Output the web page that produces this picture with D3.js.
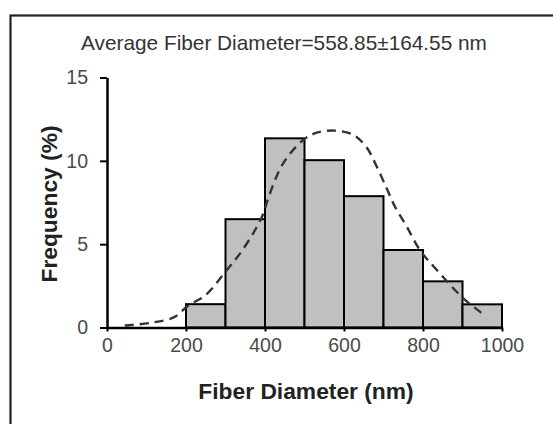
<!DOCTYPE html>
<html><head><meta charset="utf-8">
<script src="https://cdn.jsdelivr.net/npm/d3@7"></script>
<style>
html,body{margin:0;padding:0;background:#fff;}
svg{display:block;}
text{font-family:"Liberation Sans",Arial,sans-serif;}
</style></head>
<body>
<svg id="chart" width="553" height="424"></svg>
<script>
// Histogram bins (nm) and frequency (%)
const binStarts = [200, 300, 400, 500, 600, 700, 800, 900];
const binWidth = 100;
const frequencies = [1.40, 6.50, 11.35, 10.04, 7.88, 4.65, 2.77, 1.39];
// Dashed fitted curve
const curveX = [45, 110, 170, 205, 250, 300, 337, 375, 396, 408, 446, 497, 531, 577, 624, 657, 683, 708, 729, 759, 792, 835, 902, 944, 958];
const curveY = [0.12, 0.28, 0.62, 1.3, 1.95, 3.35, 4.45, 5.85, 6.85, 7.75, 9.85, 11.25, 11.69, 11.81, 11.55, 10.81, 9.65, 8.35, 7.25, 6.05, 4.65, 3.45, 1.75, 0.95, 0.65];
const xTicks = [0, 200, 400, 600, 800, 1000];
const yTicks = [0, 5, 10, 15];
const titleText = "Average Fiber Diameter=558.85±164.55 nm";
const xLabel = "Fiber Diameter (nm)";
const yLabel = "Frequency (%)";

const svg = d3.select("#chart");
svg.append("rect").attr("width",553).attr("height",424).attr("fill","#fff");
// outer frame (cut at right/bottom)
svg.append("rect").attr("x",10.5).attr("y",15.5).attr("width",560).attr("height",430)
  .attr("fill","none").attr("stroke","#222").attr("stroke-width",2.2);

const x = d3.scaleLinear().domain([0,1000]).range([107,502]);
const y = d3.scaleLinear().domain([0,15]).range([327.5,77.5]);

// bars
svg.append("g").selectAll("rect").data(binStarts).join("rect")
  .attr("x", d=>x(d)).attr("width", d=>x(d+binWidth)-x(d))
  .attr("y", (d,i)=>y(frequencies[i])).attr("height",(d,i)=>y(0)-y(frequencies[i]))
  .attr("fill","#c0c0c0").attr("stroke","#000").attr("stroke-width",2);

// curve
const pts = curveX.map((v,i)=>[v,curveY[i]]);
svg.append("path").datum(pts)
  .attr("d", d3.line().x(d=>x(d[0])).y(d=>y(d[1])).curve(d3.curveCatmullRom.alpha(0.5)))
  .attr("fill","none").attr("stroke","#333").attr("stroke-width",2.4)
  .attr("stroke-dasharray","9,6");

// axes
const xAxis = svg.append("g").attr("transform",`translate(0,${y(0)})`)
  .call(d3.axisBottom(x).tickValues(xTicks).tickFormat(d3.format("d")).tickSize(4).tickPadding(7).tickSizeOuter(0));
const yAxis = svg.append("g").attr("transform",`translate(${x(0)},0)`)
  .call(d3.axisLeft(y).tickValues(yTicks).tickFormat(d3.format("d")).tickSize(7).tickPadding(12).tickSizeOuter(0));
[xAxis,yAxis].forEach(g=>{
  g.select(".domain").attr("stroke","#000").attr("stroke-width",2.5);
  g.selectAll(".tick line").attr("stroke","#000").attr("stroke-width",2);
  g.selectAll(".tick text").attr("fill","#4a4a4a").style("font-size","19.5px")
    .style("font-family","'Liberation Sans',Arial,sans-serif");
});

// title
svg.append("text").attr("x",284).attr("y",50).attr("text-anchor","middle")
  .attr("fill","#333").style("font-size","20.8px").text(titleText);
// x label
svg.append("text").attr("x",306).attr("y",399).attr("text-anchor","middle")
  .attr("fill","#222").style("font-size","22.8px").style("font-weight","bold").text(xLabel);
// y label
svg.append("text").attr("transform","translate(57,204) rotate(-90)").attr("text-anchor","middle")
  .attr("fill","#222").style("font-size","22.8px").style("font-weight","bold").text(yLabel);
</script>
</body></html>
